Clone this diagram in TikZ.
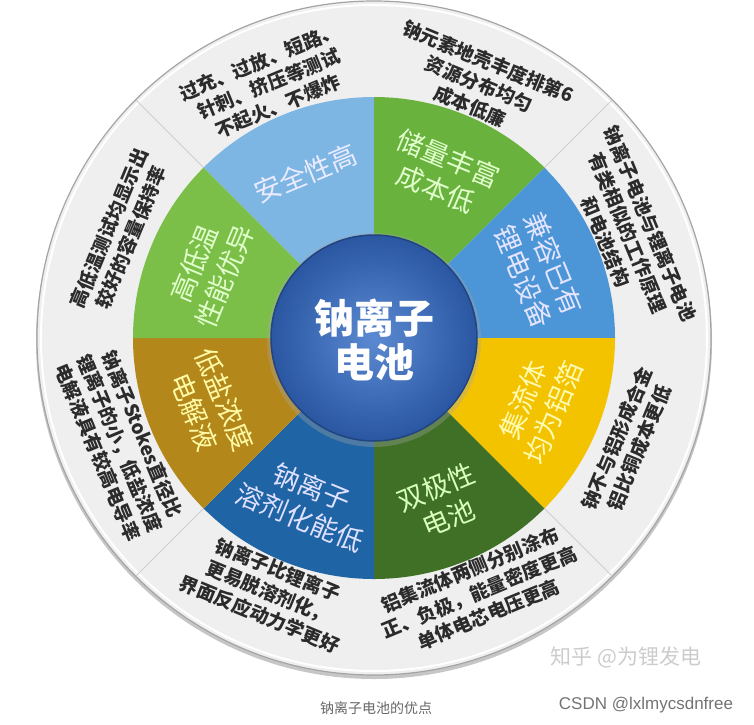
\documentclass[tikz,border=0pt]{standalone}
\usepackage{fontspec}
\newfontfamily\cjk{Noto Sans CJK SC}
\newfontfamily\lat{Liberation Sans}
\definecolor{sA}{HTML}{7DB5E3}
\definecolor{sB}{HTML}{6AB23E}
\definecolor{sC}{HTML}{4C95D6}
\definecolor{sD}{HTML}{F4C300}
\definecolor{sE}{HTML}{3F7025}
\definecolor{sF}{HTML}{1F64A4}
\definecolor{sG}{HTML}{B3871A}
\definecolor{sH}{HTML}{7BBF48}
\definecolor{ringgray}{HTML}{EFEFEF}
\definecolor{edgegray}{HTML}{A4A4A4}
\definecolor{sepgray}{HTML}{CFCFCF}
\definecolor{txtgray}{HTML}{2B2B2B}
\definecolor{coreA}{HTML}{5B8AD2}
\definecolor{coreB}{HTML}{2A56A2}
\begin{document}
\begin{tikzpicture}[
  outertxt/.style={font=\cjk\bfseries\fontsize{19}{24}\selectfont, text=txtgray, align=center, inner sep=0pt},
  segtxt/.style={font=\cjk\fontsize{27}{33}\selectfont, align=center, inner sep=0pt},
  septhin/.style={draw=sepgray, line width=1pt},
  seg/.style={fill=#1, draw=none}
]
\useasboundingbox (-374pt,-386pt) rectangle (380pt,338pt);
% shadow and outer ring
\fill[gray!45] (0pt,-3pt) circle[radius=338pt];
\fill[ringgray] (0,0) circle[radius=337pt];
\draw[edgegray, line width=1.2pt] (0,0) circle[radius=337pt];
\draw[white, line width=2pt] (0,0) circle[radius=333pt];
% separators
\foreach \a in {45,135,-45,-135}
  \draw[septhin] (\a:240pt) -- (\a:336pt);
% coloured segments
\foreach \s/\c in {90/sA,45/sB,0/sC,-45/sD,-90/sE,-135/sF,180/sG,135/sH}
  \fill[seg=\c] (0,0) -- (\s:241pt) arc[start angle=\s, end angle=\s+45, radius=241pt] -- cycle;
% core
\fill[black!35, opacity=0.35] (0,-2pt) circle[radius=107pt];
\shade[inner color=coreA, outer color=coreB] (0,0) circle[radius=103pt];
\draw[coreB!80!black, line width=1.5pt] (0,0) circle[radius=103pt];
\node[font=\cjk\bfseries\fontsize{40}{44}\selectfont, text=white, align=center] (core) at (0pt,-2pt) {钠离子\\电池};
% segment texts
\node[segtxt, text=blue!8, rotate=22.5] (tA) at (112.5:178pt) {安全性高};
\node[segtxt, text=green!60!yellow!20, rotate=-22.5] (tB) at (67.5:178pt) {储量丰富\\成本低};
\node[segtxt, text=blue!10, rotate=-67.5] (tC) at (22.5:178pt) {兼容已有\\锂电设备};
\node[segtxt, text=yellow!30, rotate=67.5] (tD) at (-22.5:178pt) {集流体\\均为铝箔};
\node[segtxt, text=green!60!yellow!25, rotate=22.5] (tE) at (-67.5:178pt) {双极性\\电池};
\node[segtxt, text=blue!12, rotate=-22.5] (tF) at (-112.5:178pt) {钠离子\\溶剂化能低};
\node[segtxt, text=yellow!35, rotate=-67.5] (tG) at (202.5:178pt) {低盐浓度\\电解液};
\node[segtxt, text=green!60!yellow!20, rotate=67.5] (tH) at (157.5:178pt) {高低温\\性能优异};
% outer texts
\node[outertxt, rotate=22.5] (oA) at (112.5:275pt) {过充、过放、短路、\\针刺、挤压等测试\\不起火、不爆炸};
\node[outertxt, rotate=-22.5] (oB) at (67.5:275pt) {钠元素地壳丰度排第6\\资源分布均匀\\成本低廉};
\node[outertxt, rotate=-67.5] (oC) at (22.5:275pt) {钠离子电池与锂离子电池\\有类相似的工作原理\\和电池结构};
\node[outertxt, rotate=67.5] (oD) at (-22.5:275pt) {钠不与铝形成合金\\铝比铜成本更低};
\node[outertxt, rotate=22.5] (oE) at (-67.5:275pt) {铝集流体两侧分别涂布\\正、负极，能量密度更高\\单体电芯电压更高};
\node[outertxt, rotate=-22.5] (oF) at (-112.5:275pt) {钠离子比锂离子\\更易脱溶剂化，\\界面反应动力学更好};
\node[outertxt, rotate=-67.5] (oG) at (202.5:275pt) {钠离子Stokes直径比\\锂离子的小，低盐浓度\\电解液具有较高电导率};
\node[outertxt, rotate=67.5] (oH) at (157.5:275pt) {高低温测试均显示出\\较好的容量保持率};
% captions
\node[font=\cjk\fontsize{21}{24}\selectfont, text=black!20] (wm) at (252pt,-319pt) {知乎 @为锂发电};
\node[font=\cjk\fontsize{14}{16}\selectfont, text=black!60] (cap) at (2pt,-370pt) {钠离子电池的优点};
\node[font=\lat\fontsize{17}{19}\selectfont, text=black!55] (csdn) at (272pt,-367pt) {CSDN @lxlmycsdnfree};
\end{tikzpicture}
\end{document}
